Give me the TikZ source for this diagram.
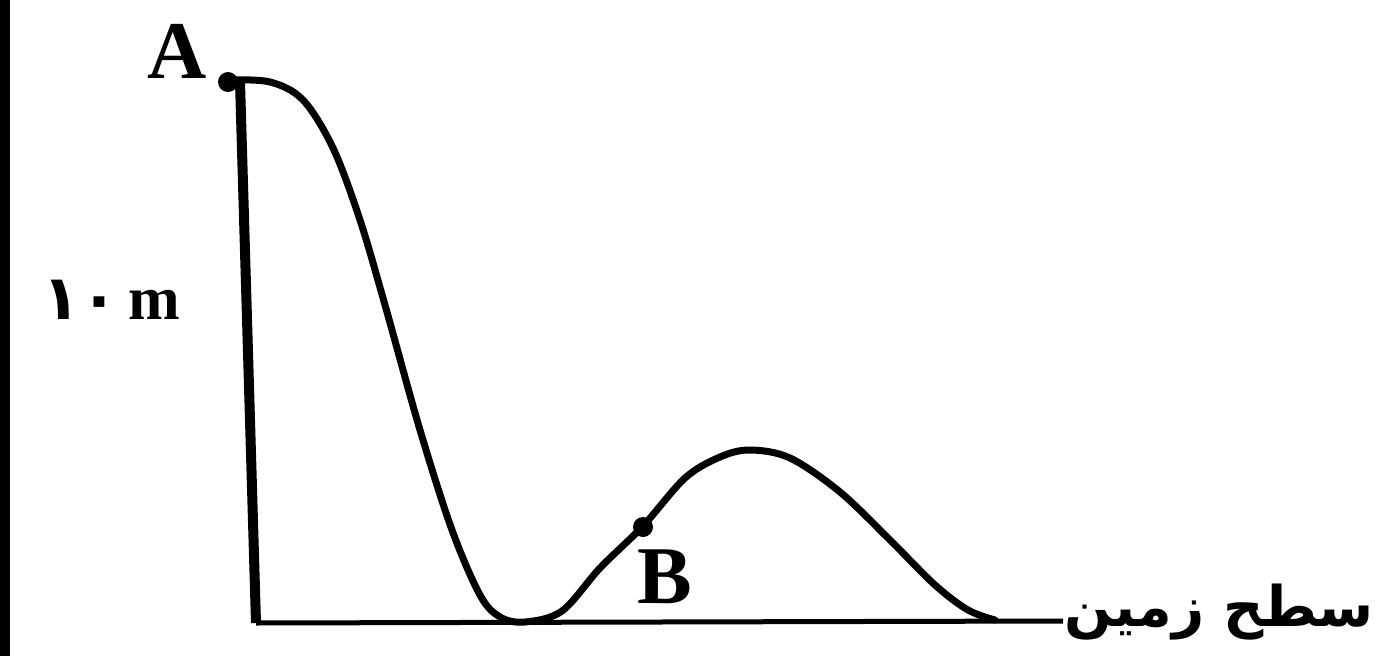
\documentclass[tikz,border=0pt]{standalone}
\usepackage{fontspec}
\newfontfamily\arabicfont[Script=Arabic]{DejaVu Sans}
\newfontfamily\labfont{Liberation Serif}
\TeXXeTstate=1
\begin{document}
\begin{tikzpicture}[x=1pt,y=-1pt,
  frameline/.style={line width=10pt},
  groundline/.style={line width=5pt},
  pathline/.style={line width=7pt,line join=round,line cap=round},
  ptdot/.style={circle,fill=black,inner sep=0pt,minimum size=20pt},
  ptlabel/.style={font=\labfont\bfseries\fontsize{82}{82}\selectfont,inner sep=0pt}]
\useasboundingbox (0,0) rectangle (1377,656);
\fill[white] (0,0) rectangle (1377,656);
% left frame edge
\draw[frameline] (5,-5) -- (5,661);
% height line and ground
\coordinate (top) at (240,82);
\coordinate (foot) at (256,623);
\coordinate (gend) at (1063,621);
\draw[frameline] (top) -- (foot);
\draw[groundline] (foot) -- (gend);
% track
\draw[pathline] plot[smooth,tension=0.55] coordinates {
 (228,80) (270,82) (303,100) (333,148) (360,220) (385,305) (420,430)
 (452,530) (480,595) (500,617) (525,622) (562,611) (600,568) (643,526)
 (685,478) (720,457) (750,450) (790,458) (840,492) (890,540) (935,585)
 (968,610) (995,620)};
\node[ptdot] (A) at (228,82) {};
\node[ptdot] (B) at (643,527) {};
\node[ptlabel] (Alab) at (177,51) {A};
\node[ptlabel] (Blab) at (665,577) {B};
\node[anchor=west,inner sep=0pt,font=\labfont\bfseries\fontsize{62}{62}\selectfont] (h) at (42,300) {{\arabicfont\bfseries ۱۰}\,m};
\node[anchor=base west,inner sep=0pt,font=\fontsize{56}{56}\selectfont] (ground) at (1064,626) {\arabicfont\bfseries\beginR سطح زمین\endR};
\end{tikzpicture}
\end{document}
